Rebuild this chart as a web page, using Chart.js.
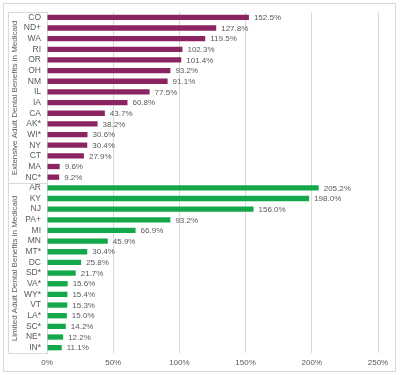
<!DOCTYPE html>
<html>
<head>
<meta charset="utf-8">
<script src="https://cdn.jsdelivr.net/npm/chart.js@4"></script>
<style>
  html, body { margin: 0; padding: 0; background: #fff; }
  #wrap { width: 400px; height: 375px; position: relative; }
</style>
</head>
<body>
<div id="wrap"><canvas id="chart"></canvas></div>
<script>
// groups
const extTitle = "Extensive Adult Dental Benefits in Medicaid";
const limTitle = "Limited Adult Dental Benefits in Medicaid";

const extStates = ["CO", "ND+", "WA", "RI", "OR", "OH", "NM", "IL", "IA", "CA", "AK*", "WI*", "NY", "CT", "MA", "NC*"];
const extValues = [152.5, 127.8, 119.5, 102.3, 101.4, 93.2, 91.1, 77.5, 60.8, 43.7, 38.2, 30.6, 30.4, 27.9, 9.6, 9.2];

const limStates = ["AR", "KY", "NJ", "PA+", "MI", "MN", "MT*", "DC", "SD*", "VA*", "WY*", "VT", "LA*", "SC*", "NE*", "IN*"];
const limValues = [205.2, 198.0, 156.0, 93.2, 66.9, 45.9, 30.4, 25.8, 21.7, 15.6, 15.4, 15.3, 15.0, 14.2, 12.2, 11.1];

const xTicks = [0, 50, 100, 150, 200, 250];

const purple = "#8c2462";
const green = "#14a84b";
const textCol = "#595959";
const gridCol = "#d9d9d9";
const font = "'Liberation Sans', Arial, sans-serif";

let labels = extStates.concat(limStates);
let values = extValues.concat(limValues);
let colors = extStates.map(() => purple).concat(limStates.map(() => green));

// labels, group box, border
const extras = {
  id: "extras",
  afterDraw(chart) {
    const ctx = chart.ctx;
    const x = chart.scales.x;
    const y = chart.scales.y;
    const area = chart.chartArea;
    ctx.save();

    // value labels
    ctx.font = "8px " + font;
    ctx.fillStyle = textCol;
    ctx.textAlign = "left";
    ctx.textBaseline = "middle";
    values.forEach((v, i) => {
      ctx.fillText(v.toFixed(1) + "%", x.getPixelForValue(v) + 5, y.getPixelForValue(i) + 0.5);
    });

    // group box
    let sep = Math.round((y.getPixelForValue(extStates.length - 1) + y.getPixelForValue(extStates.length)) / 2) + 0.5;
    let top = Math.round(area.top) + 0.5;
    let bot = Math.round(area.bottom) + 0.5;
    let boxL = 8.5;
    let boxR = Math.round(area.left);
    ctx.strokeStyle = gridCol;
    ctx.lineWidth = 1;
    ctx.beginPath();
    ctx.moveTo(boxR, top); ctx.lineTo(boxL, top); ctx.lineTo(boxL, bot); ctx.lineTo(boxR, bot);
    ctx.moveTo(boxL, sep); ctx.lineTo(boxR, sep);
    ctx.stroke();

    // group titles
    ctx.font = "8px " + font;
    ctx.textAlign = "center";
    ctx.textBaseline = "middle";
    ctx.fillStyle = textCol;
    [[extTitle, (top + sep) / 2], [limTitle, (sep + bot) / 2]].forEach(([t, cy]) => {
      ctx.save();
      ctx.translate(14.5, cy);
      ctx.rotate(-Math.PI / 2);
      ctx.fillText(t, 0, 0);
      ctx.restore();
    });

    // outer border
    ctx.strokeStyle = gridCol;
    ctx.strokeRect(3.5, 3.5, 392, 368);
    ctx.restore();
  }
};

new Chart(document.getElementById("chart"), {
  type: "bar",
  data: {
    labels: labels,
    datasets: [{
      data: values,
      backgroundColor: colors,
      borderWidth: 0,
      barPercentage: 0.5,
      categoryPercentage: 1.0
    }]
  },
  options: {
    indexAxis: "y",
    responsive: true,
    maintainAspectRatio: false,
    animation: false,
    layout: { padding: { top: 12, right: 22, bottom: 0, left: 0 } },
    plugins: {
      legend: { display: false },
      tooltip: { enabled: false }
    },
    scales: {
      x: {
        min: 0,
        max: 250,
        afterBuildTicks: (s) => { s.ticks = xTicks.map(v => ({ value: v })); },
        afterFit: (s) => { s.height = 22; },
        grid: { color: gridCol, drawTicks: false },
        border: { display: false },
        ticks: {
          padding: 5,
          color: textCol,
          font: { family: font, size: 8 },
          callback: (v) => v + "%"
        }
      },
      y: {
        afterFit: (s) => { s.width = 47; },
        grid: { display: false, drawTicks: false },
        border: { display: true, color: gridCol },
        ticks: {
          padding: 6,
          autoSkip: false,
          color: textCol,
          font: { family: font, size: 8.5 }
        }
      }
    }
  },
  plugins: [extras]
});
</script>
</body>
</html>
